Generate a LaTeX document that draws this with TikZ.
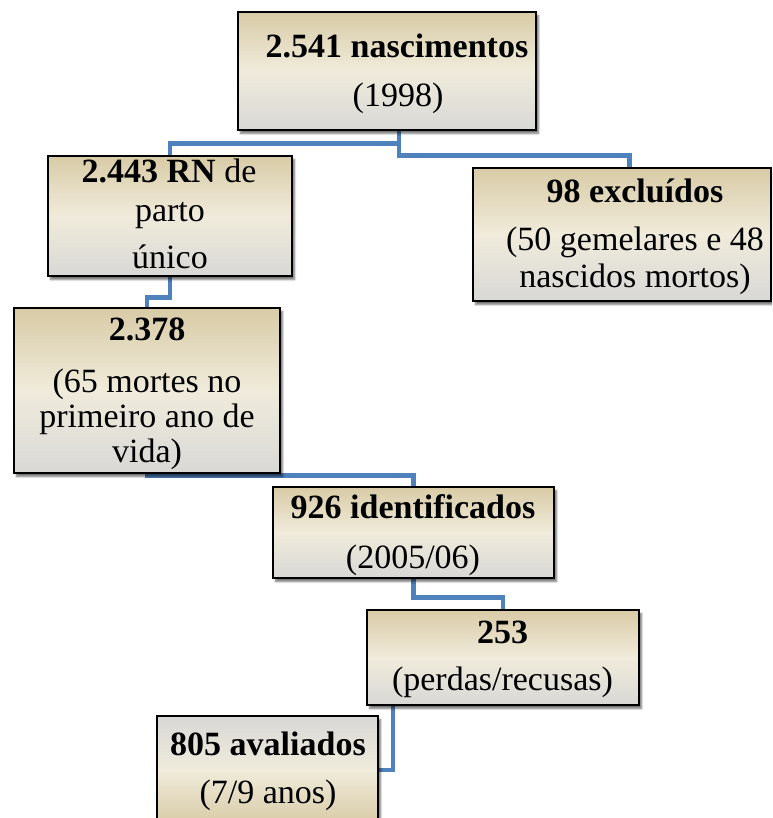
\documentclass[tikz,border=0pt]{standalone}
\usepackage{fontspec}
\setmainfont{Liberation Serif}
\usetikzlibrary{shadows.blur}
\definecolor{boxtan}{RGB}{216,203,166}
\definecolor{boxcream}{RGB}{240,235,219}
\definecolor{boxgray}{RGB}{216,216,214}
\definecolor{linkblue}{RGB}{79,129,189}
\pgfdeclarelayer{links}
\pgfsetlayers{links,main}
\tikzset{
  stagebox/.style={draw=black, line width=1.7pt, inner sep=0pt, rectangle,
    top color=boxtan, bottom color=boxgray, middle color=boxcream,
    blur shadow={shadow xshift=2.5pt, shadow yshift=-3.5pt, shadow blur steps=6, shadow opacity=55}},
  flippedbox/.style={stagebox, top color=boxgray, bottom color=boxtan, middle color=boxcream},
  link/.style={draw=linkblue, line width=4.8pt, line join=miter},
  txt/.style={anchor=base, inner sep=0pt, font=\fontsize{34}{40}\selectfont},
}
\begin{document}
\begin{tikzpicture}[x=1pt, y=-1pt]
\useasboundingbox (0,0) rectangle (772,818);
\clip (0,0) rectangle (772,818);

% stage boxes
\node[stagebox, minimum width=298pt, minimum height=118pt] (b1) at (387,71) {};
\node[stagebox, minimum width=244pt, minimum height=120pt] (b2) at (170,216) {};
\node[stagebox, minimum width=298pt, minimum height=133pt] (b3) at (622,234.5) {};
\node[stagebox, minimum width=266pt, minimum height=165pt] (b4) at (147,390.5) {};
\node[stagebox, minimum width=281pt, minimum height=91pt] (b5) at (413.5,532.5) {};
\node[stagebox, minimum width=272pt, minimum height=95pt] (b6) at (503,657.5) {};
\node[flippedbox, minimum width=221pt, minimum height=108pt] (b7) at (267.5,770) {};

% box texts
\node[txt] (t1a) at (397,58) {\textbf{2.541 nascimentos}};
\node[txt] (t1b) at (398,107) {(1998)};
\node[txt] (t2a) at (169,183) {\textbf{2.443 RN} de};
\node[txt] (t2b) at (170,222) {parto};
\node[txt] (t2c) at (170,268) {único};
\node[txt] (t3a) at (635,203) {\textbf{98 excluídos}};
\node[txt] (t3b) at (635,250) {(50 gemelares e 48};
\node[txt] (t3c) at (635,287) {nascidos mortos)};
\node[txt] (t4a) at (147,340) {\textbf{2.378}};
\node[txt] (t4b) at (147,392) {(65 mortes no};
\node[txt] (t4c) at (147,427) {primeiro ano de};
\node[txt] (t4d) at (147,462) {vida)};
\node[txt] (t5a) at (413,518) {\textbf{926 identificados}};
\node[txt] (t5b) at (413,568) {(2005/06)};
\node[txt] (t6a) at (502.5,643) {\textbf{253}};
\node[txt] (t6b) at (502.5,690) {(perdas/recusas)};
\node[txt] (t7a) at (268,755) {\textbf{805 avaliados}};
\node[txt] (t7b) at (268,803) {(7/9 anos)};

% elbow connectors behind the boxes
\begin{pgfonlayer}{links}
\draw[link] ([xshift=12pt]b1.south) -- ++(0,13) -| (b2.north);
\draw[link] ([xshift=12pt]b1.south) -- ++(0,25) -| ([xshift=7.5pt]b3.north);
\draw[link] (b2.south) -- ++(0,21) -| (b4.north);
\draw[link] (b4.south) -- ++(0,1.5) -| (b5.north);
\draw[link] (b5.south) -- ++(0,19) -| (b6.north);
\draw[link] ([xshift=-110pt]b6.south) |- (b7.east);
\end{pgfonlayer}
\end{tikzpicture}
\end{document}
